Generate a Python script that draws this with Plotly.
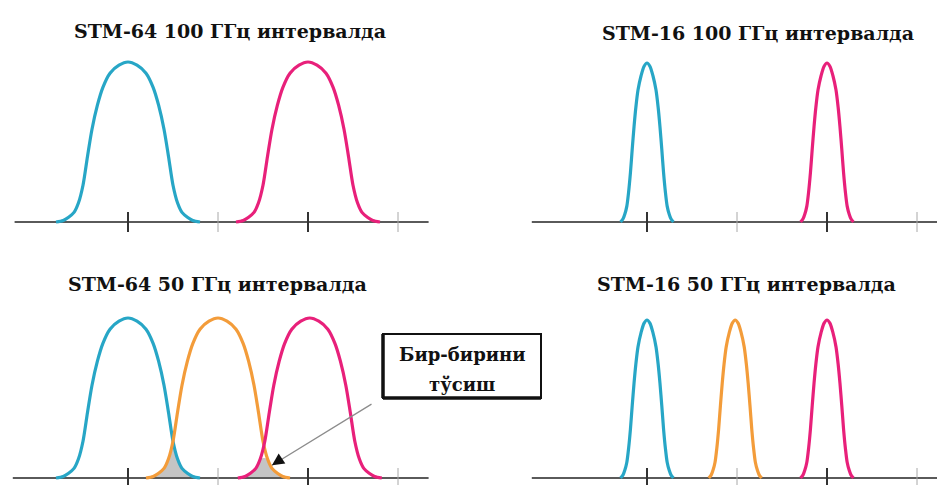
import plotly.graph_objects as go

W, H = 937, 485

# spectral profile shapes (offset in GHz, relative level)
wide_offsets = [-40, -36, -33, -30, -27.5, -25, -22.5, -20, -17, -14, -10, -5, 0,
                5, 10, 14, 17, 20, 22.5, 25, 27.5, 30, 33, 36, 40]
wide_levels = [0.0, 0.01, 0.03, 0.06, 0.12, 0.23, 0.41, 0.58, 0.73, 0.84, 0.93, 0.98, 1.0,
               0.98, 0.93, 0.84, 0.73, 0.58, 0.41, 0.23, 0.12, 0.06, 0.03, 0.01, 0.0]

narrow_offsets = [-14.7, -13.3, -12.3, -11.2, -10.2, -9.2, -8.2, -7.2, -6.2, -5, -3.3, -1.6, 0,
                  1.6, 3.3, 5, 6.2, 7.2, 8.2, 9.2, 10.2, 11.2, 12.3, 13.3, 14.7]
narrow_levels = [0.0, 0.02, 0.05, 0.10, 0.19, 0.31, 0.46, 0.60, 0.72, 0.83, 0.92, 0.98, 1.0,
                 0.98, 0.92, 0.83, 0.72, 0.60, 0.46, 0.31, 0.19, 0.10, 0.05, 0.02, 0.0]

titles = ['STM-64 100 ГГц интервалда', 'STM-16 100 ГГц интервалда',
          'STM-64 50 ГГц интервалда', 'STM-16 50 ГГц интервалда']

# channel centres (GHz) per panel
centers_tl = [0, 100]
centers_tr = [0, 100]
centers_bl = [0, 50, 101]
centers_br = [0, 49, 100]

colors_2 = ['#27a6c6', '#e8207a']
colors_3 = ['#27a6c6', '#f39c3a', '#e8207a']

major_ticks = [0, 100]
minor_ticks = [50, 150]

note_lines = ['Бир-бирини', 'тўсиш']

# panel geometry: pixel domain, pixel of 0 GHz, pixel of level 0 and 1, axis span
panels = [
    dict(xd=(0, 468), yd=(0, 242), x0=128, py0=222, py1=62, span=(-63, 167),
         offs=wide_offsets, levs=wide_levels, centers=centers_tl, colors=colors_2,
         title=titles[0], tx=230, ty=31),
    dict(xd=(469, 937), yd=(0, 242), x0=647, py0=222, py1=63, span=(-64, 162),
         offs=narrow_offsets, levs=narrow_levels, centers=centers_tr, colors=colors_2,
         title=titles[1], tx=758, ty=33),
    dict(xd=(0, 468), yd=(243, 485), x0=128, py0=478, py1=318, span=(-64, 167),
         offs=wide_offsets, levs=wide_levels, centers=centers_bl, colors=colors_3,
         title=titles[2], tx=217, ty=284),
    dict(xd=(469, 937), yd=(243, 485), x0=647, py0=478, py1=320, span=(-64, 162),
         offs=narrow_offsets, levs=narrow_levels, centers=centers_br, colors=colors_3,
         title=titles[3], tx=746, ty=284),
]

S = 1.8  # px per GHz

fig = go.Figure()
layout = {}
for i, p in enumerate(panels):
    n = '' if i == 0 else str(i + 1)
    xa, ya = 'x' + n, 'y' + n
    sy = p['py0'] - p['py1']
    layout['xaxis' + n] = dict(
        domain=[p['xd'][0] / W, p['xd'][1] / W],
        range=[(p['xd'][0] - p['x0']) / S, (p['xd'][1] - p['x0']) / S],
        visible=False, anchor=ya, fixedrange=True)
    layout['yaxis' + n] = dict(
        domain=[1 - p['yd'][1] / H, 1 - p['yd'][0] / H],
        range=[(p['py0'] - p['yd'][1]) / sy, (p['py0'] - p['yd'][0]) / sy],
        visible=False, anchor=xa, fixedrange=True)

    # overlap shading between neighbouring channels (wide 50 GHz case)
    if len(p['centers']) == 3 and p['offs'] is wide_offsets:
        for a, b in zip(p['centers'][:-1], p['centers'][1:]):
            mid = (a + b) / 2
            right_tail = [(a + o, l) for o, l in zip(p['offs'], p['levs']) if a + o >= mid]
            left_tail = [(b + o, l) for o, l in zip(p['offs'], p['levs']) if b + o <= mid]
            pts = left_tail + right_tail
            fig.add_trace(go.Scatter(
                x=[q[0] for q in pts], y=[q[1] for q in pts],
                mode='lines', line=dict(width=0, shape='spline'),
                fill='tozeroy', fillcolor='#c4c4c4',
                xaxis=xa, yaxis=ya, hoverinfo='skip', showlegend=False))

    # axis line
    fig.add_trace(go.Scatter(
        x=list(p['span']), y=[0, 0], mode='lines',
        line=dict(color='#5a5a5a', width=2.2),
        xaxis=xa, yaxis=ya, hoverinfo='skip', showlegend=False))

    # ticks
    th = 10 / sy
    for t in minor_ticks:
        fig.add_trace(go.Scatter(
            x=[t, t], y=[-th, th], mode='lines',
            line=dict(color='#a8a8a8', width=1),
            xaxis=xa, yaxis=ya, hoverinfo='skip', showlegend=False))
    for t in major_ticks:
        fig.add_trace(go.Scatter(
            x=[t, t], y=[-th, th], mode='lines',
            line=dict(color='#333333', width=2),
            xaxis=xa, yaxis=ya, hoverinfo='skip', showlegend=False))

    # channel curves
    for c, col in zip(p['centers'], p['colors']):
        fig.add_trace(go.Scatter(
            x=[c + o for o in p['offs']], y=p['levs'], mode='lines',
            line=dict(color=col, width=3.2, shape='spline', smoothing=0.8),
            xaxis=xa, yaxis=ya, hoverinfo='skip', showlegend=False))

    fig.add_annotation(
        text='<b>' + p['title'] + '</b>', x=p['tx'] / W, y=1 - p['ty'] / H,
        xref='paper', yref='paper', showarrow=False, xanchor='center', yanchor='middle',
        font=dict(family='DejaVu Serif', size=19, color='#111111'))

# callout arrow (bottom-left panel)
fig.add_annotation(
    x=80, y=0.08, xref='x3', yref='y3', ax=101, ay=-62,
    text='', showarrow=True, arrowhead=0, arrowwidth=1.3, arrowcolor='#8c8c8c')
fig.add_annotation(
    x=80, y=0.08, xref='x3', yref='y3', ax=9, ay=-6,
    text='', showarrow=True, arrowhead=2, arrowsize=1.2, arrowwidth=2, arrowcolor='#111111')

# callout box
bx0, bx1, by0, by1 = 383, 541, 334, 398
fig.add_shape(type='rect', xref='paper', yref='paper',
              x0=bx0 / W, x1=bx1 / W, y0=1 - by1 / H, y1=1 - by0 / H,
              line=dict(color='#111111', width=2), fillcolor='white')
fig.add_shape(type='line', xref='paper', yref='paper',
              x0=bx0 / W, x1=bx0 / W, y0=1 - by1 / H, y1=1 - by0 / H,
              line=dict(color='#111111', width=3.5))
fig.add_shape(type='line', xref='paper', yref='paper',
              x0=bx0 / W, x1=bx1 / W, y0=1 - by1 / H, y1=1 - by1 / H,
              line=dict(color='#111111', width=3.5))
for txt, ty in zip(note_lines, [354, 384]):
    fig.add_annotation(
        text='<b>' + txt + '</b>', x=462 / W, y=1 - ty / H,
        xref='paper', yref='paper', showarrow=False, xanchor='center', yanchor='middle',
        font=dict(family='DejaVu Serif', size=18, color='#111111'))

fig.update_layout(
    width=W, height=H, margin=dict(l=0, r=0, t=0, b=0),
    paper_bgcolor='white', plot_bgcolor='rgba(0,0,0,0)', showlegend=False,
    **layout)

fig.write_html('out.html', config={'displayModeBar': False},
               post_script="document.body.style.margin='0';")
